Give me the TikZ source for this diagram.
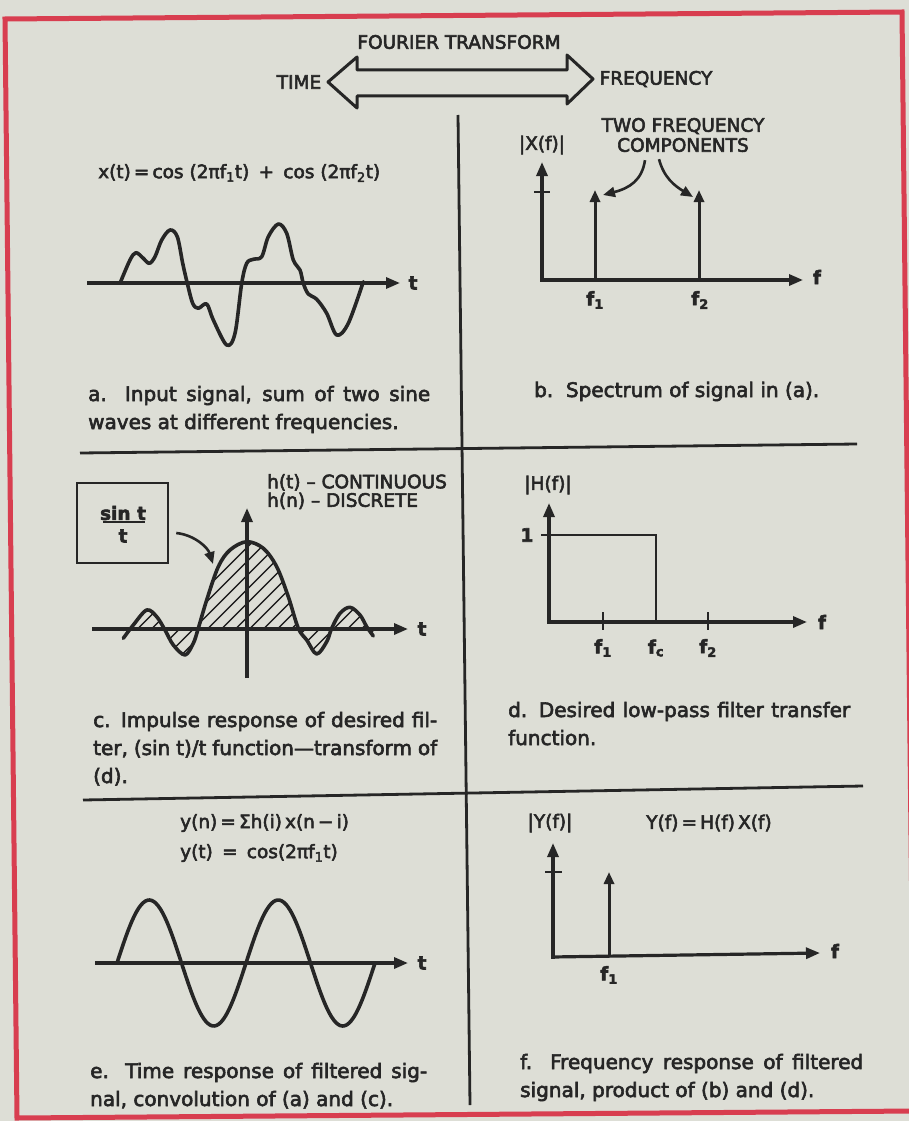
\documentclass[tikz,border=0pt]{standalone}
\usepackage{fontspec}
\setmainfont{DejaVu Sans}[FakeBold=3]
\usepackage{tikz}
\usetikzlibrary{arrows.meta,patterns.meta}

\definecolor{paper}{RGB}{221,222,214}
\definecolor{ink}{RGB}{38,38,38}
\definecolor{frame}{RGB}{216,62,80}

\newcommand{\lblsize}{\fontsize{18.5}{20}\selectfont}
\newcommand{\capsize}{\fontsize{20}{28}\selectfont}
\newcommand{\eqsize}{\fontsize{18.5}{30}\selectfont}
\newcommand{\ix}[1]{\textsubscript{#1}}

\begin{document}
\begin{tikzpicture}[x=1pt, y=-1pt,
    axis/.style={draw=ink, line width=3.2pt, -{Triangle[length=14pt,width=11pt]}},
    spike/.style={draw=ink, line width=3pt, -{Triangle[length=12pt,width=10pt]}},
    divider/.style={draw=ink, line width=2.8pt},
    wave/.style={draw=ink, line width=3.6pt, line cap=round, line join=round},
    lbl/.style={text=ink, font=\lblsize, inner sep=0pt},
    axlbl/.style={text=ink, font=\lblsize\bfseries, inner sep=0pt},
    eq/.style={text=ink, font=\eqsize, inner sep=0pt, anchor=west},
    captxt/.style={text=ink, font=\capsize, inner sep=0pt, align=left, anchor=base west},
    hatch/.style={pattern={Lines[angle=45,distance=10.5pt,line width=1.7pt]}, pattern color=ink},
]

\useasboundingbox (0,0) rectangle (909,1121);
\fill[paper] (0,0) rectangle (909,1121);
\draw[frame, line width=5pt] (5,19) -- (902,12) -- (914,1111) -- (17,1118) -- cycle;

% dividers
\draw[divider] (458,115) -- (470,1105);
\draw[divider] (80,453) -- (857,444);
\draw[divider] (83,800) -- (863,786);

% header
\node[lbl] (ft) at (459,42) {FOURIER TRANSFORM};
\node[lbl] (time) at (299,82) {TIME};
\node[lbl] (freq) at (656,79) {FREQUENCY};
\draw[ink, line width=3pt, line join=round] (328,82) -- (357,57) -- (357,70) -- (567,70) -- (567,55)
  -- (593,79) -- (567,104) -- (567,96) -- (357,96) -- (357,108) -- cycle;

% a. input signal
\node[eq] (xeq) at (98,173) {x(t)\,=\,cos (2πf\ix{1}t)\enspace+\enspace cos (2πf\ix{2}t)};
\draw[wave] plot[smooth, tension=0.55] coordinates {(120,283.3) (130,260) (136,252.7) (143.3,258.3)
  (149.3,263.3) (155,256.7) (161.7,240) (170,230) (177.3,236.7) (182.7,263.3) (187.3,283.3)
  (192.7,303.3) (198.3,308.3) (206.7,304) (213.3,320) (226.7,345) (235,333.3) (241.7,283.3)
  (246.7,263.3) (253.3,259.3) (261.7,256.7) (268.3,236.7) (278.3,224) (286.7,233.3) (293.3,260)
  (300,270) (303.3,283.3) (308.3,294) (316.7,299.3) (326.7,313.3) (336.7,335) (348.3,323.3)
  (363.3,281.7)};
\draw[axis] (87,283) -- (400,283);
\node[axlbl] (ta) at (413,283) {t};
\node[captxt] (capa) at (88,429) {\makebox[342pt][s]{a. Input signal, sum of two sine}\\waves at different frequencies.};

% b. spectrum
\node[lbl, align=center] (twofreq) at (683,135) {TWO FREQUENCY\\COMPONENTS};
\node[lbl] (xmag) at (542,145) {|X(f)|};
\draw[axis] (542,281.5) -- (542,162);
\draw[axis] (540.5,280) -- (803,280);
\draw[divider, line width=2.5pt] (534,192) -- (550,192);
\draw[spike] (595,280) -- (595,190);
\draw[spike] (699,280) -- (699,190);
\node[axlbl] (fb) at (817,277) {f};
\node[axlbl] (fb1) at (595,300) {f\ix{1}};
\node[axlbl] (fb2) at (700,300) {f\ix{2}};
\coordinate (hitone) at (603,195);
\coordinate (hittwo) at (693,197);
\draw[spike, line width=2.6pt] ([xshift=-38pt,yshift=-8pt]twofreq.south) .. controls (642,180) and (630,188) .. (hitone);
\draw[spike, line width=2.6pt] ([xshift=-24pt,yshift=-7pt]twofreq.south) .. controls (664,178) and (675,186) .. (hittwo);
\node[captxt] (capb) at (534,397) {b.\ \ Spectrum of signal in (a).};

% c. impulse response
\fill[hatch] plot[smooth, tension=0.55] coordinates {(123.3,638.3) (133.3,625) (146.7,610) (156.7,616.7)
  (165,630) (173.3,645) (185,655) (193.3,643.3) (198.3,628.3) (206.7,600) (218.3,566.7) (230,550)
  (246.7,541.7) (263.3,548.3) (276.7,566.7) (288.3,596.7) (298.3,628.3) (306.7,640) (316.7,654)
  (326.7,641.7) (331.7,628.3) (340,613.3) (350,607.3) (360,615) (366.7,626.7) (373.3,636)}
  -- (373.3,629) -- (123.3,629) -- cycle;
\draw[wave] plot[smooth, tension=0.55] coordinates {(123.3,638.3) (133.3,625) (146.7,610) (156.7,616.7)
  (165,630) (173.3,645) (185,655) (193.3,643.3) (198.3,628.3) (206.7,600) (218.3,566.7) (230,550)
  (246.7,541.7) (263.3,548.3) (276.7,566.7) (288.3,596.7) (298.3,628.3) (306.7,640) (316.7,654)
  (326.7,641.7) (331.7,628.3) (340,613.3) (350,607.3) (360,615) (366.7,626.7) (373.3,636)};
\draw[axis] (92,629) -- (408,629);
\draw[axis] (247,678) -- (247,508);
\node[axlbl] (tc) at (422,629) {t};
\node[lbl, font=\fontsize{18.5}{18.5}\selectfont, align=left, anchor=north west] (hlbl) at (267,474)
  {h(t) – CONTINUOUS\\h(n) – DISCRETE};
\node[draw=ink, line width=2.5pt, minimum width=91pt, minimum height=80pt, inner sep=0pt] (sincbox) at (122.5,523) {};
\node[axlbl] (sinnum) at (123,513) {sin t};
\node[axlbl] (sinden) at (123,536) {t};
\draw[ink, line width=2pt] (103,522) -- (145,522);
\coordinate (sinchit) at (213,564);
\draw[spike, line width=2.6pt] ([xshift=7pt,yshift=-10pt]sincbox.east) .. controls (195,535) and (208,548) .. (sinchit);
\node[captxt] (capc) at (93,783) {\makebox[344pt][s]{c. Impulse response of desired fil-}\\
  \makebox[344pt][s]{ter, (sin t)/t function—transform of}\\(d).};

% d. low-pass filter
\node[lbl] (hmag) at (548,485) {|H(f)|};
\draw[axis] (549,623.5) -- (549,503);
\draw[axis] (547.5,622) -- (807,622);
\draw[divider, line width=2.5pt] (541,535) -- (557,535);
\draw[divider] (549,535) -- (656,535) -- (656,622);
\draw[divider, line width=2.5pt] (603,612) -- (603,630);
\draw[divider, line width=2.5pt] (708,612) -- (708,630);
\node[axlbl] (one) at (527,535) {1};
\node[axlbl] (fd) at (822,622) {f};
\node[axlbl] (fd1) at (603,648) {f\ix{1}};
\node[axlbl] (fdc) at (656,648) {f\ix{c}};
\node[axlbl] (fd2) at (708,648) {f\ix{2}};
\node[captxt] (capd) at (508,745) {\makebox[342pt][s]{d. Desired low-pass filter transfer}\\function.};

% e. time response
\node[eq] (yneq) at (180,823) {y(n)\,=\,Σh(i)\,x(n\,−\,i)};
\node[eq] (yteq) at (180,853) {y(t)\enspace=\enspace cos(2πf\ix{1}t)};
\draw[wave] plot[domain=117:375, samples=120, smooth] (\x, {963-63*sin(2.7907*(\x-117))});
\draw[axis] (95,963) -- (408,963);
\node[axlbl] (te) at (422,963) {t};
\node[captxt] (cape) at (90,1106) {\makebox[337pt][s]{e. Time response of filtered sig-}\\nal, convolution of (a) and (c).};

% f. filtered spectrum
\node[lbl] (ymag) at (550,823) {|Y(f)|};
\node[lbl] (yfeq) at (709,823) {Y(f)\,=\,H(f)\,X(f)};
\draw[axis] (553,958.5) -- (553,843);
\draw[axis] (551.5,957) -- (820,953);
\draw[divider, line width=2.5pt] (545,872) -- (562,872);
\draw[spike] (609,957) -- (609,872);
\node[axlbl] (ff) at (835,951) {f};
\node[axlbl] (ff1) at (609,975) {f\ix{1}};
\node[captxt] (capf) at (520,1097) {\makebox[343pt][s]{f. Frequency response of filtered}\\signal, product of (b) and (d).};

\end{tikzpicture}
\end{document}
